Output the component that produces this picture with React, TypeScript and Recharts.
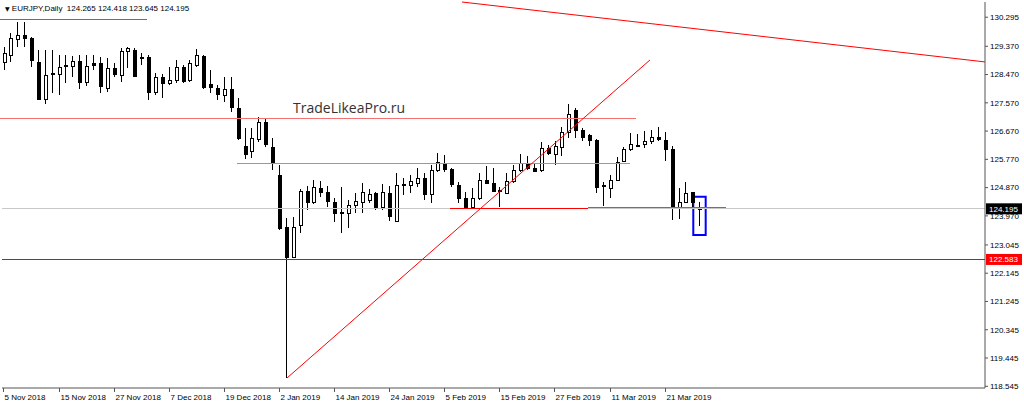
import React from 'react';
import {
  ComposedChart, Bar, XAxis, YAxis, ReferenceLine, ReferenceArea, ReferenceDot,
} from 'recharts';

// EURJPY daily, 5 Nov 2018 .. 28 Mar 2019
const dates = [
  '2018.11.05', '2018.11.06', '2018.11.07', '2018.11.08', '2018.11.09', '2018.11.12', '2018.11.13', '2018.11.14',
  '2018.11.15', '2018.11.16', '2018.11.19', '2018.11.20', '2018.11.21', '2018.11.22', '2018.11.23', '2018.11.26',
  '2018.11.27', '2018.11.28', '2018.11.29', '2018.11.30', '2018.12.03', '2018.12.04', '2018.12.05', '2018.12.06',
  '2018.12.07', '2018.12.10', '2018.12.11', '2018.12.12', '2018.12.13', '2018.12.14', '2018.12.17', '2018.12.18',
  '2018.12.19', '2018.12.20', '2018.12.21', '2018.12.24', '2018.12.26', '2018.12.27', '2018.12.28', '2018.12.31',
  '2019.01.02', '2019.01.03', '2019.01.04', '2019.01.07', '2019.01.08', '2019.01.09', '2019.01.10', '2019.01.11',
  '2019.01.14', '2019.01.15', '2019.01.16', '2019.01.17', '2019.01.18', '2019.01.21', '2019.01.22', '2019.01.23',
  '2019.01.24', '2019.01.25', '2019.01.28', '2019.01.29', '2019.01.30', '2019.01.31', '2019.02.01', '2019.02.04',
  '2019.02.05', '2019.02.06', '2019.02.07', '2019.02.08', '2019.02.11', '2019.02.12', '2019.02.13', '2019.02.14',
  '2019.02.15', '2019.02.18', '2019.02.19', '2019.02.20', '2019.02.21', '2019.02.22', '2019.02.25', '2019.02.26',
  '2019.02.27', '2019.02.28', '2019.03.01', '2019.03.04', '2019.03.05', '2019.03.06', '2019.03.07', '2019.03.08',
  '2019.03.11', '2019.03.12', '2019.03.13', '2019.03.14', '2019.03.15', '2019.03.18', '2019.03.19', '2019.03.20',
  '2019.03.21', '2019.03.22', '2019.03.25', '2019.03.26', '2019.03.27', '2019.03.28',
];

const opens = [
  128.872, 129.094, 129.604, 129.731, 129.636, 128.872, 127.693, 128.489, 128.489, 128.760,
  128.744, 128.903, 128.235, 128.840, 128.840, 128.044, 128.680, 128.458, 129.222, 129.254,
  129.031, 129.031, 127.916, 128.394, 128.203, 128.298, 128.712, 128.298, 128.776, 129.063,
  128.171, 128.044, 127.821, 128.012, 127.407, 126.196, 126.037, 126.419, 126.945, 126.165,
  125.273, 123.617, 122.661, 123.680, 124.763, 124.413, 124.859, 124.731, 124.413, 124.063,
  124.063, 124.318, 124.413, 124.477, 124.700, 124.254, 124.700, 123.808, 124.970, 124.954,
  125.018, 125.177, 124.668, 125.432, 125.655, 125.464, 124.954, 124.540, 124.254, 124.540,
  125.114, 125.009, 124.779, 124.700, 125.082, 125.432, 125.655, 125.496, 125.432, 126.133,
  125.926, 126.174, 126.652, 127.343, 126.706, 126.547, 126.388, 124.938, 124.849, 125.114,
  125.719, 126.101, 126.228, 126.251, 126.356, 126.493, 126.388, 126.101, 124.244, 124.422,
  124.722, 124.265,
];
const highs = [
  129.349, 129.795, 130.145, 130.145, 129.668, 129.254, 129.254, 129.254, 129.094, 129.094,
  129.063, 129.094, 129.094, 129.094, 129.031, 128.999, 128.840, 129.317, 129.349, 129.317,
  129.158, 129.094, 128.521, 128.489, 128.712, 128.935, 128.776, 128.935, 129.286, 129.094,
  128.617, 128.139, 128.394, 128.394, 127.725, 126.770, 126.770, 127.120, 127.056, 126.451,
  125.591, 123.903, 123.935, 124.827, 124.923, 125.114, 125.082, 124.923, 124.540, 124.891,
  124.477, 124.700, 125.018, 124.827, 124.731, 124.986, 124.923, 125.337, 125.177, 125.273,
  125.496, 125.337, 125.591, 125.973, 125.910, 125.496, 125.050, 124.731, 124.859, 125.337,
  125.560, 125.496, 124.891, 125.337, 125.591, 125.942, 125.878, 125.655, 126.324, 126.228,
  126.356, 126.811, 127.524, 127.407, 126.760, 126.569, 126.403, 125.060, 125.273, 125.856,
  126.174, 126.601, 126.569, 126.674, 126.706, 126.811, 126.633, 126.206, 124.849, 125.040,
  124.741, 124.418,
];
const lows = [
  128.617, 128.872, 129.349, 129.349, 128.712, 127.661, 127.534, 127.884, 127.821, 128.203,
  128.394, 128.012, 128.107, 128.617, 127.884, 127.916, 128.394, 128.235, 128.680, 128.394,
  128.776, 127.661, 127.821, 127.725, 128.139, 128.203, 128.203, 128.235, 128.712, 128.012,
  127.884, 127.661, 127.598, 127.279, 126.388, 125.782, 125.814, 126.324, 126.165, 125.432,
  123.521, 118.808, 122.629, 123.426, 124.158, 124.349, 124.572, 124.254, 123.776, 123.426,
  123.585, 124.063, 124.063, 124.381, 124.158, 124.158, 123.808, 123.776, 124.636, 124.700,
  124.891, 124.477, 124.381, 125.368, 125.368, 124.891, 124.381, 124.222, 124.222, 124.477,
  125.002, 124.731, 124.254, 124.700, 125.018, 125.368, 125.432, 125.368, 125.368, 125.910,
  125.591, 125.888, 126.442, 126.442, 126.356, 126.174, 124.690, 124.295, 124.531, 125.082,
  125.696, 126.015, 126.142, 126.123, 126.251, 126.356, 125.719, 123.840, 123.872, 124.403,
  124.232, 123.645,
];
const closes = [
  129.158, 129.636, 129.731, 129.636, 128.935, 127.693, 128.458, 128.505, 128.712, 128.776,
  128.903, 128.235, 128.744, 128.776, 128.107, 128.680, 128.489, 129.222, 129.317, 128.426,
  128.983, 127.916, 128.394, 128.203, 128.298, 128.712, 128.267, 128.840, 129.094, 128.075,
  128.075, 127.852, 128.012, 127.438, 126.451, 125.942, 126.451, 126.945, 126.260, 125.655,
  123.585, 122.661, 123.617, 124.763, 124.413, 124.891, 124.731, 124.445, 124.063, 124.079,
  124.318, 124.445, 124.731, 124.668, 124.254, 124.731, 123.967, 124.954, 124.986, 125.082,
  125.177, 124.668, 125.432, 125.687, 125.464, 124.986, 124.540, 124.254, 124.540, 125.114,
  125.018, 124.763, 124.763, 125.082, 125.432, 125.655, 125.496, 125.400, 126.133, 125.973,
  126.181, 126.652, 127.206, 126.706, 126.493, 126.388, 124.900, 124.923, 125.114, 125.696,
  126.101, 126.251, 126.212, 126.356, 126.493, 126.410, 126.101, 124.212, 124.422, 124.690,
  124.422, 124.195,
];

const priceTicks = [
  130.295, 129.37, 128.47, 127.57, 126.67, 125.77, 124.87, 123.97, 123.045, 122.145,
  121.245, 120.345, 119.445, 118.545,
];
const tickDates = [
  '2018.11.05', '2018.11.15', '2018.11.27', '2018.12.07', '2018.12.19', '2019.01.02', '2019.01.14',
  '2019.01.24', '2019.02.05', '2019.02.15', '2019.02.27', '2019.03.11', '2019.03.21',
];
const MONTHS = ['Jan', 'Feb', 'Mar', 'Apr', 'May', 'Jun', 'Jul', 'Aug', 'Sep', 'Oct', 'Nov', 'Dec'];

// drawn objects: [x1, price1, x2, price2] in bar-index units
const trendLines = [
  [41.17, 118.808, 93.87, 128.935],
  [66.57, 130.78, 142.5, 128.872],
];
const levelLines = [
  { from: -0.5, to: 20.84, price: 130.231, color: '#ff3030' },
  { from: -0.5, to: 91.83, price: 127.056, color: '#f47272' },
  { from: 33.9, to: 90.96, price: 125.639, color: '#f47272' },
  { from: 64.83, to: 84.87, price: 124.212, color: '#ff0000' },
  { from: 84.87, to: 104.9, price: 124.238, color: '#f23c3c' },
];
const lastBox = { x1: 100.15, x2: 101.95, y1: 123.362, y2: 124.582 };
const bidPrice = 124.195;
const levelPrice = 122.583;

const SLOTS = 143;
const FONT = '"Liberation Sans", Arial, sans-serif';
const FRAME = '#555';

const rows = Array.from({ length: SLOTS }, (_, i) =>
  i < dates.length
    ? { idx: i, range: [lows[i], highs[i]], open: opens[i], high: highs[i], low: lows[i], close: closes[i] }
    : { idx: i, range: null },
);

const tickIdx = tickDates.map((d) => dates.indexOf(d));

function fmtDate(d: string) {
  const [y, m, day] = d.split('.');
  return `${Number(day)} ${MONTHS[Number(m) - 1]} ${y}`;
}

function Candle(props: any) {
  const { x, y, width, height, payload } = props;
  if (!payload || payload.open == null) return null;
  const { open, close, high, low } = payload;
  const top = Math.min(y, y + height);
  const h = Math.abs(height);
  const span = high - low || 1;
  const py = (v: number) => top + ((high - v) / span) * h;
  const col = Math.round(x + width / 2);
  const bTop = Math.round(py(Math.max(open, close)));
  const bBot = Math.max(Math.round(py(Math.min(open, close))), bTop + 1);
  const up = close >= open;
  return (
    <g shapeRendering="crispEdges">
      <rect x={col} y={Math.round(top)} width={1} height={Math.max(Math.round(h), 1)} fill="#000" />
      <rect x={col - 1} y={bTop} width={4} height={bBot - bTop + 1} fill="#000" />
      {up && bBot - bTop > 1 && (
        <rect x={col} y={bTop + 1} width={2} height={bBot - bTop - 1} fill="#fff" />
      )}
    </g>
  );
}

function DateTick(props: any) {
  const { x, y, payload } = props;
  const d = dates[payload.value];
  if (!d) return null;
  const tx = Math.round(x) + 0.5;
  return (
    <g>
      <line x1={tx} x2={tx} y1={y} y2={y + 4} stroke={FRAME} />
      <text x={tx + 1} y={y + 12} fontSize={8} fontFamily={FONT} fill="#000">
        {fmtDate(d)}
      </text>
    </g>
  );
}

function PriceTag(props: any) {
  const { viewBox, text, bg } = props;
  if (!viewBox) return null;
  const x = viewBox.x + viewBox.width + 1;
  return (
    <g>
      <rect x={x} y={viewBox.y - 5.5} width={36} height={11} fill={bg} />
      <text x={x + 3} y={viewBox.y + 3} fontSize={8} fontFamily={FONT} fill="#fff">
        {text}
      </text>
    </g>
  );
}

function Watermark(props: any) {
  const { viewBox } = props;
  if (!viewBox) return null;
  return (
    <text x={viewBox.x} y={viewBox.y + 5} fontSize={14} fontFamily='"Open Sans", sans-serif' fill="#333">
      TradeLikeaPro.ru
    </text>
  );
}

export default function App() {
  return (
    <div style={{ position: 'absolute', left: 0, top: 0, width: 1024, height: 406, background: '#fff', overflow: 'hidden' }}>
      <div
        style={{
          position: 'absolute', left: 5, top: 4, fontSize: 8, lineHeight: '10px',
          fontFamily: FONT, color: '#000', whiteSpace: 'pre', zIndex: 2,
        }}
      >
        <span style={{ fontSize: 6, fontFamily: '"DejaVu Sans", sans-serif' }}>▼</span>
        {' EURJPY,Daily  124.265 124.418 123.645 124.195'}
      </div>
      <ComposedChart
        width={1024}
        height={406}
        data={rows}
        margin={{ top: 2, right: 0, bottom: 0, left: 2 }}
      >
        <XAxis
          xAxisId="cat"
          dataKey="idx"
          type="category"
          ticks={tickIdx}
          interval={0}
          height={18}
          tickSize={0}
          tickMargin={0}
          tickLine={false}
          axisLine={{ stroke: FRAME }}
          tick={<DateTick />}
          padding={{ left: -2, right: 0 }}
        />
        <XAxis
          xAxisId="num"
          dataKey="idx"
          type="number"
          orientation="top"
          domain={[-0.5, SLOTS - 0.5]}
          allowDataOverflow
          height={0}
          tick={false}
          tickLine={false}
          axisLine={{ stroke: FRAME }}
          padding={{ left: -2, right: 0 }}
        />
        <YAxis
          yAxisId="price"
          orientation="right"
          type="number"
          domain={[118.49, 130.78]}
          allowDataOverflow
          ticks={priceTicks}
          interval={0}
          width={39}
          tickSize={3}
          tickMargin={2}
          tickLine={{ stroke: FRAME }}
          axisLine={{ stroke: FRAME }}
          tickFormatter={(v: number) => v.toFixed(3)}
          tick={{ fontSize: 8, fill: '#000', fontFamily: FONT }}
        />
        <YAxis
          yAxisId="left"
          orientation="left"
          type="number"
          domain={[0, 1]}
          width={0}
          tick={false}
          tickLine={false}
          axisLine={{ stroke: FRAME }}
        />

        <ReferenceLine
          xAxisId="num"
          yAxisId="price"
          y={bidPrice}
          stroke="#c8c8c8"
          shapeRendering="crispEdges"
          label={<PriceTag text={bidPrice.toFixed(3)} bg="#000" />}
        />

        <Bar
          xAxisId="cat"
          yAxisId="price"
          dataKey="range"
          barSize={5}
          shape={<Candle />}
          isAnimationActive={false}
        />

        <ReferenceLine
          xAxisId="num"
          yAxisId="price"
          y={levelPrice}
          stroke="#ff0000"
          shapeRendering="crispEdges"
          label={<PriceTag text={levelPrice.toFixed(3)} bg="#ff0000" />}
        />
        {levelLines.map((l, i) => (
          <ReferenceLine
            key={`lv${i}`}
            xAxisId="num"
            yAxisId="price"
            segment={[{ x: l.from, y: l.price }, { x: l.to, y: l.price }]}
            stroke={l.color}
            strokeWidth={1}
            shapeRendering="crispEdges"
          />
        ))}
        {trendLines.map((t, i) => (
          <ReferenceLine
            key={`tl${i}`}
            xAxisId="num"
            yAxisId="price"
            segment={[{ x: t[0], y: t[1] }, { x: t[2], y: t[3] }]}
            stroke="#ff0000"
            strokeWidth={1}
          />
        ))}
        <ReferenceArea
          xAxisId="num"
          yAxisId="price"
          x1={lastBox.x1}
          x2={lastBox.x2}
          y1={lastBox.y1}
          y2={lastBox.y2}
          fill="none"
          fillOpacity={0}
          stroke="#0000ff"
          strokeWidth={2}
        />
        <ReferenceDot
          xAxisId="num"
          yAxisId="price"
          x={42.04}
          y={127.41}
          r={0}
          fill="none"
          stroke="none"
          label={<Watermark />}
        />
      </ComposedChart>
    </div>
  );
}
